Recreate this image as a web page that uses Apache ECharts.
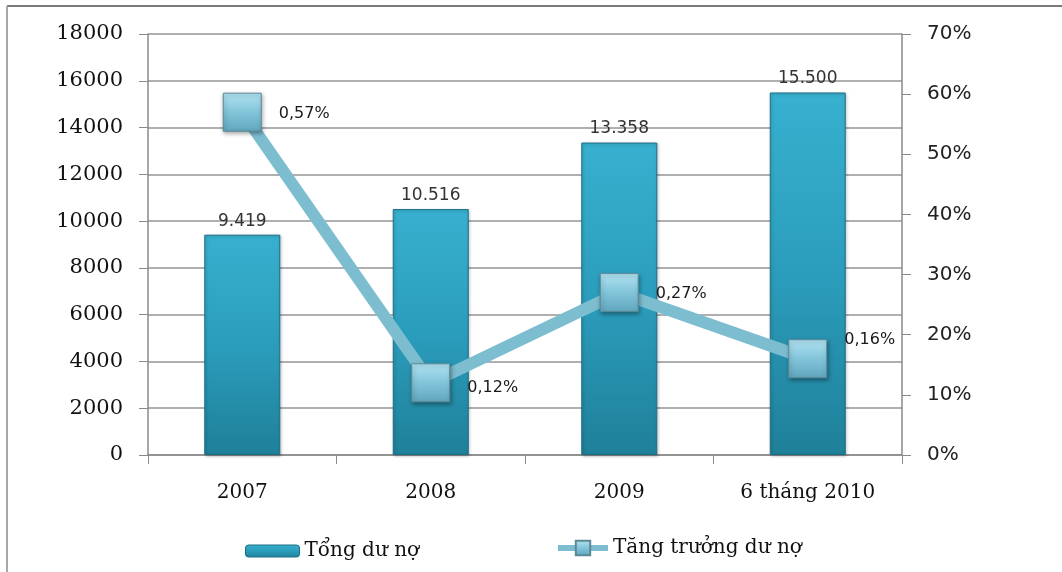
<!DOCTYPE html>
<html>
<head>
<meta charset="utf-8">
<script src="https://cdn.jsdelivr.net/npm/echarts@6/dist/echarts.min.js"></script>
<style>
  html, body { margin: 0; padding: 0; background: #fff; }
  #chart { width: 1062px; height: 572px; }
</style>
</head>
<body>
<div id="chart"></div>
<script>
// Categories and series
const categories = ['2007', '2008', '2009', '6 tháng 2010'];
const totalDebt = [9419, 10516, 13358, 15500];      // Tổng dư nợ
const debtGrowth = [0.57, 0.12, 0.27, 0.16];         // Tăng trưởng dư nợ
const leftTicks = { min: 0, max: 18000, interval: 2000 };
const rightTicks = { min: 0, max: 0.7, interval: 0.1 };

const serif = 'DejaVu Serif';
const sans = 'DejaVu Sans';

const barFill = new echarts.graphic.LinearGradient(0, 0, 0, 1, [
  { offset: 0, color: '#38b0cf' },
  { offset: 0.5, color: '#2b9dbc' },
  { offset: 1, color: '#1f8099' }
]);
const markerFill = new echarts.graphic.LinearGradient(0, 0, 0, 1, [
  { offset: 0, color: '#b3e4f3' },
  { offset: 0.45, color: '#86c7dc' },
  { offset: 1, color: '#5fa6bd' }
]);

// per-point label nudges for the growth line
const growthLabelOffsets = [[0, 2], [0, 5], [0, 1], [0, -19]];

const chart = echarts.init(document.getElementById('chart'));
chart.setOption({
  backgroundColor: '#ffffff',
  animation: false,
  graphic: [
    { type: 'line', shape: { x1: 7, y1: 6, x2: 1062, y2: 6 }, style: { stroke: '#7a7a7a', lineWidth: 2 } },
    { type: 'line', shape: { x1: 7, y1: 6, x2: 7, y2: 572 }, style: { stroke: '#a8a8a8', lineWidth: 2 } }
  ],
  grid: { left: 148, right: 160, top: 34, bottom: 117 },
  legend: [
    {
      left: 240, top: 536,
      itemWidth: 54, itemHeight: 12,
      data: [{ name: 'Tổng dư nợ', itemStyle: { color: barFill, borderColor: '#1c6f86', borderWidth: 1 } }],
      textStyle: { fontFamily: serif, fontSize: 20, color: '#111' }
    },
    {
      left: 550, top: 533,
      itemWidth: 50, itemHeight: 18,
      data: [{ name: 'Tăng trưởng dư nợ', lineStyle: { width: 6, color: '#7dbdd0' } }],
      textStyle: { fontFamily: serif, fontSize: 20, color: '#111' }
    }
  ],
  xAxis: {
    type: 'category',
    data: categories,
    axisLine: { lineStyle: { color: '#8a8a8a', width: 1.5 } },
    axisTick: { show: true, length: 9, lineStyle: { color: '#8a8a8a' } },
    axisLabel: { fontFamily: serif, fontSize: 20, color: '#111', margin: 28 }
  },
  yAxis: [
    {
      type: 'value',
      min: leftTicks.min, max: leftTicks.max, interval: leftTicks.interval,
      axisLine: { show: true, lineStyle: { color: '#8a8a8a', width: 1.5 } },
      axisTick: { show: true, length: 9, lineStyle: { color: '#8a8a8a' } },
      splitLine: { lineStyle: { color: '#959595', width: 1.5 } },
      axisLabel: { fontFamily: serif, fontSize: 21, color: '#111', margin: 25, formatter: v => String(v) }
    },
    {
      type: 'value',
      position: 'right',
      min: rightTicks.min, max: rightTicks.max, interval: rightTicks.interval,
      axisLine: { show: true, lineStyle: { color: '#8a8a8a', width: 1.5 } },
      axisTick: { show: true, length: 9, lineStyle: { color: '#8a8a8a' } },
      splitLine: { show: false },
      axisLabel: {
        fontFamily: sans, fontSize: 20, color: '#222', margin: 25,
        formatter: v => Math.round(v * 100) + '%'
      }
    }
  ],
  series: [
    {
      name: 'Tổng dư nợ',
      type: 'bar',
      yAxisIndex: 0,
      data: totalDebt,
      barWidth: 76,
      itemStyle: {
        color: barFill,
        borderColor: '#1c6f86',
        borderWidth: 1,
        shadowColor: 'rgba(0,0,0,0.25)',
        shadowBlur: 3,
        shadowOffsetX: 1,
        shadowOffsetY: 1
      },
      label: {
        show: true,
        position: 'top',
        distance: 5,
        fontFamily: sans,
        fontSize: 17,
        color: '#333',
        formatter: p => p.value.toString().replace(/\B(?=(\d{3})+(?!\d))/g, '.')
      }
    },
    {
      name: 'Tăng trưởng dư nợ',
      type: 'line',
      yAxisIndex: 1,
      data: debtGrowth.map((v, i) => ({ value: v, label: { offset: growthLabelOffsets[i] } })),
      symbol: 'rect',
      symbolSize: 38,
      z: 5,
      lineStyle: { color: '#7dbdd0', width: 12 },
      itemStyle: {
        color: markerFill,
        borderColor: '#5d8896',
        borderWidth: 1,
        shadowColor: 'rgba(0,0,0,0.35)',
        shadowBlur: 4,
        shadowOffsetX: 1,
        shadowOffsetY: 2
      },
      label: {
        show: true,
        position: 'right',
        distance: 17,
        fontFamily: sans,
        fontSize: 16,
        color: '#1a1a1a',
        formatter: p => p.value.toFixed(2).replace('.', ',') + '%'
      }
    }
  ]
});
</script>
</body>
</html>
